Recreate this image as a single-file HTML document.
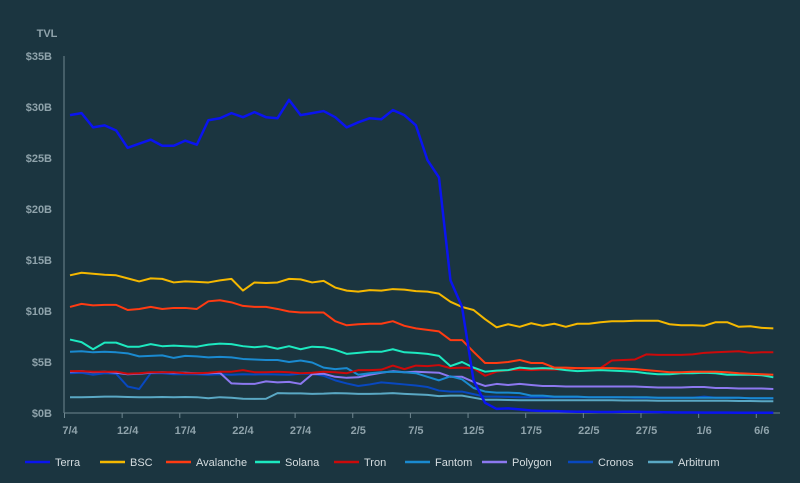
<!DOCTYPE html>
<html><head><meta charset="utf-8"><style>
body{margin:0;background:#1b3540;}
svg{display:block;font-family:"Liberation Sans",sans-serif;}
</style></head><body>
<svg id="c" width="800" height="483">
<rect width="800" height="483" fill="#1b3540"/>
<text x="47" y="37" fill="#8fa3ab" font-size="11" font-weight="bold" text-anchor="middle">TVL</text>
<g id="axes"></g><g id="lines"></g><g id="legend"></g>
</svg>
<script>
const dates=["7/4","12/4","17/4","22/4","27/4","2/5","7/5","12/5","17/5","22/5","27/5","1/6","6/6"];
const yTicks=[0,5,10,15,20,25,30,35];
const names=["Terra","BSC","Avalanche","Solana","Tron","Fantom","Polygon","Cronos","Arbitrum"];
const colors=["#0a14f0","#f5b800","#ff3b12","#1de9c0","#cc0a0a","#1a8ad0","#8c78f0","#0848c0","#5aa8c4"];
const terra=[29.2,29.4,28.0,28.2,27.7,26.0,26.4,26.8,26.2,26.2,26.7,26.3,28.7,28.9,29.4,29.0,29.5,29.0,28.9,30.7,29.2,29.4,29.6,29.0,28.0,28.5,28.9,28.8,29.7,29.2,28.2,24.8,23.1,13.0,10.4,3.2,1.0,0.4,0.45,0.35,0.25,0.2,0.18,0.15,0.12,0.12,0.1,0.1,0.12,0.12,0.1,0.08,0.06,0.05,0.05,0.04,0.04,0.04,0.03,0.03,0.03,0.03];
const bsc=[13.5,13.75,13.65,13.55,13.5,13.2,12.9,13.2,13.15,12.8,12.9,12.85,12.8,13.0,13.15,12.0,12.8,12.75,12.8,13.15,13.1,12.8,12.95,12.3,12.0,11.9,12.05,12.0,12.15,12.1,11.95,11.9,11.7,10.9,10.4,10.1,9.2,8.4,8.7,8.45,8.8,8.55,8.75,8.45,8.75,8.75,8.9,9.0,9.0,9.05,9.05,9.05,8.7,8.6,8.6,8.55,8.9,8.9,8.45,8.5,8.35,8.3,8.2].slice(0,62);
const avalanche=[10.4,10.7,10.55,10.6,10.6,10.1,10.2,10.4,10.2,10.3,10.3,10.2,10.95,11.05,10.85,10.5,10.4,10.4,10.2,9.95,9.85,9.85,9.85,9.0,8.6,8.7,8.75,8.75,9.0,8.55,8.3,8.15,8.0,7.15,7.15,6.0,4.9,4.9,5.0,5.2,4.9,4.9,4.45,4.45,4.4,4.4,4.4,4.4,4.35,4.3,4.2,4.1,4.0,4.0,4.05,4.05,4.05,4.0,3.9,3.85,3.8,3.75];
const solana=[7.2,6.95,6.25,6.9,6.9,6.5,6.5,6.75,6.55,6.6,6.55,6.5,6.7,6.8,6.75,6.55,6.45,6.55,6.3,6.55,6.25,6.5,6.45,6.2,5.8,5.9,6.0,6.0,6.25,5.95,5.9,5.8,5.6,4.6,5.0,4.45,4.05,4.15,4.2,4.45,4.35,4.4,4.35,4.2,4.1,4.15,4.2,4.15,4.1,4.05,3.9,3.8,3.8,3.9,3.9,3.95,3.9,3.75,3.75,3.75,3.7,3.5];
const tron=[4.1,4.1,4.05,4.05,4.05,3.85,3.9,4.0,4.0,4.0,3.9,3.9,3.95,4.05,4.05,4.2,4.0,4.0,4.05,4.0,3.9,3.95,4.05,4.0,3.9,4.2,4.2,4.25,4.65,4.3,4.65,4.6,4.7,4.4,4.45,4.4,3.65,4.05,4.2,4.25,4.2,4.25,4.25,4.3,4.4,4.4,4.4,5.15,5.2,5.25,5.75,5.7,5.7,5.7,5.75,5.9,5.95,6.0,6.05,5.9,5.95,5.95];
const fantom=[6.0,6.05,5.95,6.0,5.95,5.85,5.55,5.6,5.65,5.4,5.6,5.55,5.45,5.5,5.45,5.3,5.25,5.2,5.2,5.0,5.15,4.95,4.45,4.3,4.4,3.75,3.9,4.0,4.05,4.0,3.9,3.55,3.2,3.6,3.3,2.45,2.1,2.0,2.0,1.95,1.7,1.7,1.6,1.6,1.6,1.55,1.55,1.55,1.55,1.55,1.55,1.5,1.5,1.5,1.5,1.5,1.5,1.5,1.5,1.45,1.45,1.45];
const polygon=[4.05,4.1,4.0,4.05,3.95,3.8,3.85,3.95,4.0,3.95,3.95,3.9,3.9,3.95,2.9,2.85,2.85,3.1,3.0,3.05,2.85,3.8,3.85,3.55,3.45,3.5,3.75,3.95,4.1,4.0,4.05,4.0,3.95,3.55,3.55,3.05,2.65,2.85,2.75,2.85,2.75,2.65,2.65,2.6,2.6,2.6,2.6,2.6,2.6,2.6,2.55,2.5,2.5,2.5,2.55,2.55,2.45,2.45,2.4,2.4,2.4,2.35];
const cronos=[3.9,3.95,3.75,3.9,3.85,2.6,2.35,3.9,3.9,3.8,3.8,3.8,3.75,3.8,3.75,3.8,3.78,3.8,3.78,3.75,3.85,3.85,3.65,3.2,2.9,2.65,2.8,3.0,2.9,2.8,2.7,2.55,2.2,2.1,2.1,1.85,1.6,1.6,1.58,1.55,1.55,1.55,1.55,1.55,1.55,1.55,1.55,1.55,1.55,1.5,1.5,1.5,1.5,1.5,1.5,1.6,1.5,1.5,1.5,1.45,1.45,1.45];
const arbitrum=[1.55,1.55,1.57,1.6,1.6,1.57,1.55,1.55,1.57,1.55,1.57,1.55,1.45,1.55,1.5,1.4,1.38,1.4,1.95,1.92,1.92,1.88,1.9,1.95,1.92,1.88,1.88,1.9,1.95,1.88,1.82,1.78,1.65,1.7,1.7,1.5,1.3,1.3,1.28,1.25,1.25,1.25,1.25,1.25,1.25,1.25,1.25,1.25,1.22,1.22,1.22,1.2,1.2,1.2,1.2,1.2,1.2,1.2,1.18,1.18,1.15,1.15];
const series=[terra,bsc,avalanche,solana,tron,fantom,polygon,cronos,arbitrum];
const NS="http://www.w3.org/2000/svg";
const x=i=>70+i*11.53, y=v=>413-v*10.2;
function mk(tag,attrs,parent){const e=document.createElementNS(NS,tag);for(const k in attrs)e.setAttribute(k,attrs[k]);parent.appendChild(e);return e;}
const ax=document.getElementById('axes');
let l=mk('line',{x1:64,y1:56,x2:64,y2:413,stroke:'#6f8790','stroke-width':1},ax);


l=mk('line',{x1:64,y1:413,x2:780,y2:413,stroke:'#6f8790','stroke-width':1},ax);


yTicks.forEach(v=>{const t=mk('text',{x:52,y:y(v)+4,fill:'#8fa3ab','font-size':11,'font-weight':'bold','text-anchor':'end'},ax);t.textContent='$'+v+'B';

});
dates.forEach((d,k)=>{const i=k*5;const tk=mk('line',{x1:x(i)-5.5,y1:413,x2:x(i)-5.5,y2:418,stroke:'#6f8790'},ax);


const t=mk('text',{x:x(i),y:434,fill:'#8fa3ab','font-size':11,'font-weight':'bold','text-anchor':'middle'},ax);t.textContent=d;

});
const lg=document.getElementById('lines');
for(let s=series.length-1;s>=0;s--){const p=mk('polyline',{points:series[s].map((v,i)=>x(i)+','+y(v)).join(' '),fill:'none',stroke:colors[s],'stroke-width':s==0?2.5:2,'stroke-linejoin':'round'},lg);

}
const leg=document.getElementById('legend');
const lx=[25,100,166,255,334,405,482,568,648];
names.forEach((n,i)=>{const g=mk('g',{},leg);


mk('line',{x1:lx[i],y1:462,x2:lx[i]+25,y2:462,stroke:colors[i],'stroke-width':2.5},g);
const t=mk('text',{x:lx[i]+30,y:466,fill:'#d5dde0','font-size':11},g);t.textContent=n;});
</script>
</body></html>
